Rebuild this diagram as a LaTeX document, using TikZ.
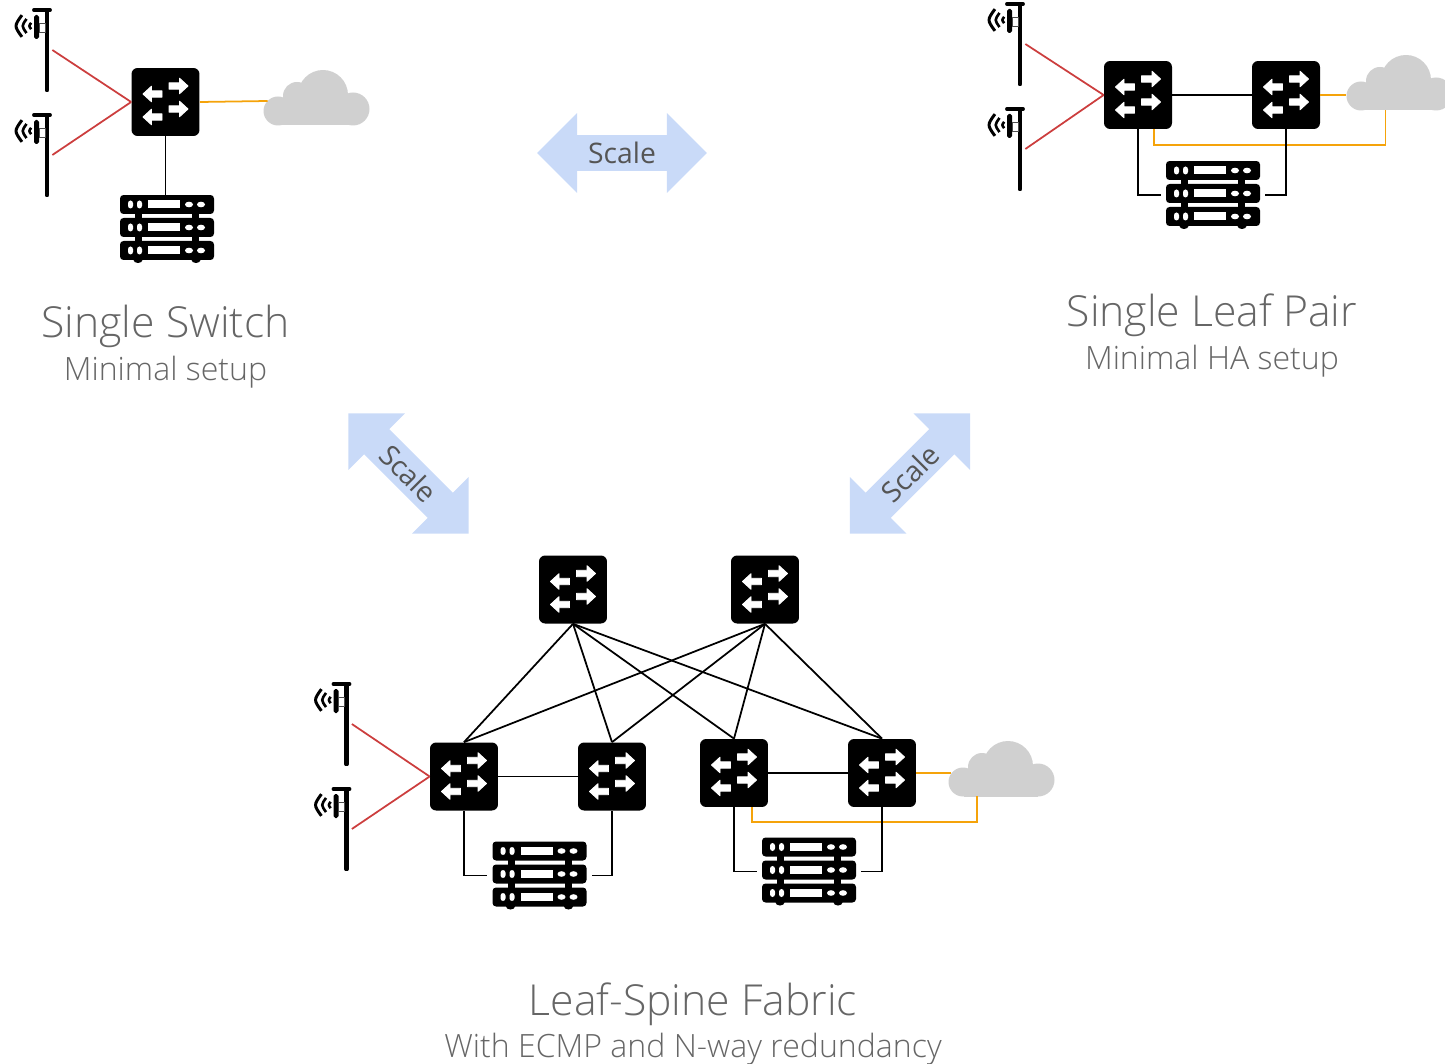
\documentclass[tikz,border=0pt]{standalone}
\usepackage{xcolor}
\usepackage{fontspec}
\usepackage{tikz}
\usetikzlibrary{shapes.arrows}
\setmainfont{Open Sans Light}
\newfontfamily\scalefont{Open Sans}
\definecolor{titlecolor}{RGB}{102,102,102}
\definecolor{scaletextcolor}{RGB}{85,85,85}
\definecolor{scalecolor}{RGB}{201,218,248}
\definecolor{cloudcolor}{RGB}{208,208,208}
\definecolor{redlinkcolor}{RGB}{204,62,62}
\definecolor{orangelinkcolor}{RGB}{245,163,10}
\tikzset{
    switchbox/.style={
        minimum width=1.36cm, minimum height=1.36cm, inner sep=0pt,
        path picture={
            \coordinate (pc) at (path picture bounding box.center);
            \begin{scope}[shift={(pc)}]
                \fill[black, rounded corners=3.5pt] (-34,-34) rectangle (34,34);
                \foreach \ax/\ay/\sg in {3.5/-16/1,3.5/7/1,-3.5/-8/-1,-3.5/15/-1}
                {
                    \filldraw[white, line width=0.5pt, line join=round]
                        ({\ax},{\ay-3.2}) -- ({\ax+\sg*10.5},{\ay-3.2}) -- ({\ax+\sg*10.5},{\ay-7.8}) -- ({\ax+\sg*19},{\ay})
                        -- ({\ax+\sg*10.5},{\ay+7.8}) -- ({\ax+\sg*10.5},{\ay+3.2}) -- ({\ax},{\ay+3.2}) -- cycle;
                }
            \end{scope}
        }
    },
    rackbox/.style={
        minimum width=2.08cm, minimum height=1.36cm, inner sep=0pt,
        path picture={
            \coordinate (pc) at (path picture bounding box.center);
            \begin{scope}[shift={(pc)}]
                \fill[black] (-32,-30) rectangle (-25,26);
                \fill[black] (25,-30) rectangle (32,26);
                \fill[black] (-29,31) ellipse (4.5 and 3);
                \fill[black] (29,31) ellipse (4.5 and 3);
                \foreach \y in {-24.5,-1.5,21.5}
                {
                    \fill[black, rounded corners=2pt] (-47,\y-9.5) rectangle (47,\y+9.5);
                    \fill[white, rounded corners=1.5pt] (-39,\y-4) rectangle (-34,\y+4);
                    \fill[white, rounded corners=1.5pt] (-30,\y-4) rectangle (-25,\y+4);
                    \fill[white] (-19,\y-4) rectangle (13,\y+4);
                    \fill[white] (22,\y) ellipse (4 and 2.8);
                    \fill[white] (34,\y) ellipse (4 and 2.8);
                }
            \end{scope}
        }
    },
    cloudbox/.style={
        minimum width=2.14cm, minimum height=1.14cm, inner sep=0pt,
        path picture={
            \coordinate (pc) at (path picture bounding box.center);
            \begin{scope}[shift={(pc)}]
                \fill[cloudcolor] (-38.5,12.5) circle (14.5);
                \fill[cloudcolor] (-19.5,-2.5) circle (14);
                \fill[cloudcolor] (6.5,-3.5) circle (25);
                \fill[cloudcolor] (36.5,10.5) circle (16.5);
                \fill[cloudcolor] (-38,8) rectangle (36,27);
            \end{scope}
        }
    },
    antennabox/.style={
        minimum width=0.8cm, minimum height=1.68cm, inner sep=0pt,
        path picture={
            \coordinate (pc) at (path picture bounding box.center);
            \begin{scope}[shift={(pc)}]
                \draw[black, line width=2.6pt, line cap=round] (15,-40) -- (15,40);
                \draw[black, line width=2.2pt, line cap=round] (2,-40) -- (18,-40);
                \fill[black, rounded corners=1pt] (2,-35) rectangle (7,-11);
                \draw[black!70, line width=0.5pt] (7,-27) rectangle (13,-18);
                \foreach \r/\w in {5/1.5pt,11/1.5pt,17/1.7pt}
                {
                    \draw[black, line width=\w] ({3-\r*.77},{-24-\r*.64}) .. controls ({3-\r*1.23},-24) .. ({3-\r*.77},{-24+\r*.64});
                }
            \end{scope}
        }
    },
    scalearrow/.style={
        shape=double arrow, fill=scalecolor, text=scaletextcolor, font=\fontsize{16.1}{20}\selectfont\scalefont,
        minimum height=3.4cm, minimum width=1.6cm, inner sep=0pt,
        double arrow head extend=0.28cm
    },
    titletext/.style={text=titlecolor, font=\fontsize{24.3}{30}\selectfont, inner sep=0pt},
    subtext/.style={text=titlecolor, font=\fontsize{18.25}{22}\selectfont, inner sep=0pt},
    blacklink/.style={black, line width=1pt},
    redlink/.style={redlinkcolor, line width=1pt},
    orangelink/.style={orangelinkcolor, line width=1pt}
}
\begin{document}
\begin{tikzpicture}[x=0.02cm, y=-0.02cm]
    \useasboundingbox (0,0) rectangle (1445,1064);

    \node[antennabox] (antA) at (32,50) {};
    \node[antennabox] (antB) at (32,155) {};
    \node[switchbox] (single) at (165.5,102) {};
    \node[rackbox] (rackA) at (167,229) {};
    \node[cloudbox] (cloudA) at (316.5,98.5) {};
    \draw[redlink] (antA.east) -- (single.west);
    \draw[redlink] (antB.east) -- (single.west);
    \draw[orangelink] (single.east) -- ([xshift=0.1cm,yshift=-0.05cm]cloudA.west);
    \draw[blacklink] (single.south) -- (single.south |- rackA.north);
    \node[titletext] (titleA) at (165.5,326) {Single Switch};
    \node[subtext] (subA) at (165.5,372) {Minimal setup};

    \node[antennabox] (antC) at (1005,44) {};
    \node[antennabox] (antD) at (1005,149) {};
    \node[switchbox] (pairA) at (1138,95) {};
    \node[switchbox] (pairB) at (1286,95) {};
    \node[rackbox] (rackB) at (1213,195) {};
    \node[cloudbox] (cloudB) at (1399.5,83.5) {};
    \draw[redlink] (antC.east) -- (pairA.west);
    \draw[redlink] (antD.east) -- (pairA.west);
    \draw[orangelink] (pairB.east) -- (pairB.east -| cloudB.west);
    \draw[orangelink] ([xshift=0.32cm]pairA.south) -- ++(0,16) -| ([xshift=-0.28cm,yshift=0.04cm]cloudB.south);
    \draw[blacklink] (pairA.east) -- (pairB.west);
    \draw[blacklink] (pairA.south) |- (rackB.west);
    \draw[blacklink] (pairB.south) |- (rackB.east);
    \node[titletext] (titleB) at (1212,315) {Single Leaf Pair};
    \node[subtext] (subB) at (1212,361) {Minimal HA setup};

    \node[scalearrow] (scaleTop) at (622,153) {Scale};
    \node[scalearrow, rotate=-45] (scaleLeft) at (408.5,473.5) {Scale};
    \node[scalearrow, rotate=45] (scaleRight) at (910,473.5) {Scale};

    \node[switchbox] (spineA) at (573,589.5) {};
    \node[switchbox] (spineB) at (765,589.5) {};
    \node[switchbox] (leafA) at (464,776.5) {};
    \node[switchbox] (leafB) at (612,776.5) {};
    \node[switchbox] (leafC) at (734,773) {};
    \node[switchbox] (leafD) at (882,773) {};
    \node[antennabox] (antE) at (331.5,724) {};
    \node[antennabox] (antF) at (331.5,829) {};
    \node[rackbox] (rackC) at (539.5,875.5) {};
    \node[rackbox] (rackD) at (809,871.5) {};
    \node[cloudbox] (cloudC) at (1001.5,769.5) {};
    \foreach \s in {spineA,spineB}
        \foreach \l in {leafA,leafB,leafC,leafD}
        {
            \draw[blacklink] (\s.south) -- (\l.north);
        }
    \draw[redlink] (antE.east) -- (leafA.west);
    \draw[redlink] (antF.east) -- (leafA.west);
    \draw[orangelink] (leafD.east) -- ([xshift=0.06cm]leafD.east -| cloudC.west);
    \draw[orangelink] ([xshift=0.36cm]leafC.south) -- ++(0,15) -| ([xshift=-0.49cm,yshift=0.04cm]cloudC.south);
    \draw[blacklink] (leafA.east) -- (leafB.west);
    \draw[blacklink] (leafC.east) -- (leafD.west);
    \draw[blacklink] (leafA.south) |- (rackC.west);
    \draw[blacklink] (leafB.south) |- (rackC.east);
    \draw[blacklink] (leafC.south) |- (rackD.west);
    \draw[blacklink] (leafD.south) |- (rackD.east);
    \node[titletext] (titleC) at (693,1004) {Leaf-Spine Fabric};
    \node[subtext] (subC) at (693,1049) {With ECMP and N-way redundancy};
\end{tikzpicture}
\end{document}
